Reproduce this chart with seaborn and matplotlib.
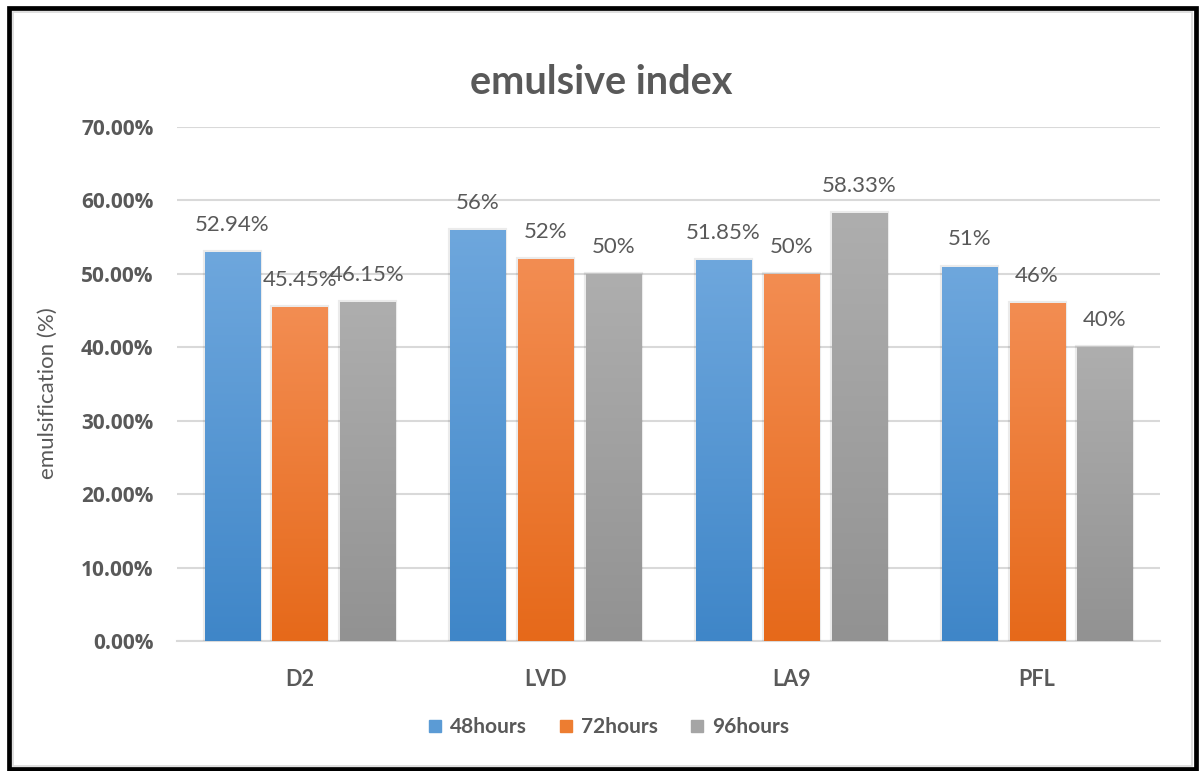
import numpy as np
import pandas as pd
import matplotlib
matplotlib.use("Agg")
import matplotlib.pyplot as plt
from matplotlib.colors import LinearSegmentedColormap
from matplotlib.patches import Rectangle
from matplotlib.lines import Line2D
import seaborn as sns

# ---- data ----
categories = ["D2", "LVD", "LA9", "PFL"]
series_names = ["48hours", "72hours", "96hours"]
values_48 = [52.94, 56.0, 51.85, 51.0]
values_72 = [45.45, 52.0, 50.0, 46.0]
values_96 = [46.15, 50.0, 58.33, 40.0]
labels_48 = ["52.94%", "56%", "51.85%", "51%"]
labels_72 = ["45.45%", "52%", "50%", "46%"]
labels_96 = ["46.15%", "50%", "58.33%", "40%"]
yticks = [0, 10, 20, 30, 40, 50, 60, 70]
ytick_labels = ["0.00%", "10.00%", "20.00%", "30.00%", "40.00%", "50.00%", "60.00%", "70.00%"]

series_values = [values_48, values_72, values_96]
series_labels = [labels_48, labels_72, labels_96]

rows = []
for name, vals in zip(series_names, series_values):
    for c, v in zip(categories, vals):
        rows.append({"category": c, "series": name, "value": v})
df = pd.DataFrame(rows)

base_colors = ["#5B9BD5", "#ED7D31", "#A5A5A5"]
grad_top = ["#6EA7DD", "#F38D52", "#AEAEAE"]
grad_bot = ["#3F86C8", "#E6691A", "#929292"]
text_col = "#595959"

sns.set_theme(style="white")
plt.rcParams["font.family"] = ["Lato", "DejaVu Sans"]

fig = plt.figure(figsize=(12.03, 7.71), dpi=100)
ax = fig.add_axes([177/1203, 1-641/771, (1160-177)/1203, (641-127)/771])

sns.barplot(data=df, x="category", y="value", hue="series", order=categories,
            hue_order=series_names, palette=base_colors, width=0.827, gap=0.185,
            ax=ax, legend=False, edgecolor=(0, 0, 0, 0.08), linewidth=3.0, zorder=3)

ax.set_xlim(-0.5, 3.5)
ax.set_ylim(0, 70)

# gradient fills clipped to bars
grad = np.linspace(0, 1, 256).reshape(-1, 1)
for i, cont in enumerate(ax.containers):
    cmap = LinearSegmentedColormap.from_list(f"g{i}", [grad_top[i], grad_bot[i]])
    for patch, lab in zip(cont.patches, series_labels[i]):
        x, w, h = patch.get_x(), patch.get_width(), patch.get_height()
        im = ax.imshow(grad, extent=[x, x + w, 0, h], aspect="auto", cmap=cmap,
                       origin="upper", zorder=3.5, interpolation="bilinear")
        im.set_clip_path(patch)
        ax.annotate(lab, (x + w / 2, h), xytext=(0, 19.5), textcoords="offset points",
                    ha="center", va="center", fontsize=16, color=text_col, zorder=5)

ax.set_xlim(-0.5, 3.5)
ax.set_ylim(0, 70)
ax.set_aspect("auto")

ax.set_yticks(yticks)
ax.set_yticklabels(ytick_labels)
ax.yaxis.grid(True, color="#D9D9D9", linewidth=1.5, zorder=0)
ax.set_axisbelow(True)
for s in ["top", "right", "left"]:
    ax.spines[s].set_visible(False)
ax.spines["bottom"].set_color("#D9D9D9")
ax.spines["bottom"].set_linewidth(1.5)
ax.tick_params(axis="both", length=0)
ax.tick_params(axis="y", pad=17)
ax.tick_params(axis="x", pad=20)
for t in ax.get_yticklabels():
    t.set_fontsize(15); t.set_fontweight("bold"); t.set_color(text_col)
    t.set_family(["Open Sans", "DejaVu Sans"])
for t in ax.get_xticklabels():
    t.set_fontsize(15.5); t.set_fontweight("bold"); t.set_color(text_col)

ax.set_xlabel("")
ax.set_ylabel("emulsification (%)", fontsize=16, color=text_col)
ax.yaxis.set_label_coords((58 - 177) / 983, (641 - 393) / 514)

fig.text(0.5, 1 - 83/771, "emulsive index", ha="center", va="center",
         fontsize=28.5, fontweight="bold", color=text_col)

handles = [Line2D([], [], marker="s", linestyle="none", markersize=9,
                  markerfacecolor=c, markeredgecolor=c) for c in base_colors]
fig.legend(handles, series_names, loc="center", bbox_to_anchor=(607/1203, 1 - 727/771),
           ncol=3, frameon=False, handletextpad=0.2, columnspacing=1.4,
           prop={"weight": "bold", "size": 15}, labelcolor=text_col, handlelength=1.0)

# frame around figure
fig.patches.append(Rectangle((12.5/1203, 1 - 766/771), (1191.5 - 12.5)/1203, (766 - 11.5)/771,
                             transform=fig.transFigure, fill=False, edgecolor="#D9D9D9",
                             linewidth=1.2, zorder=9))
fig.patches.append(Rectangle((9/1203, 1 - 768.5/771), (1195.5 - 9)/1203, (768.5 - 8)/771,
                             transform=fig.transFigure, fill=False, edgecolor="black",
                             linewidth=3.4, zorder=10))

fig.savefig("out.png", dpi=100)
